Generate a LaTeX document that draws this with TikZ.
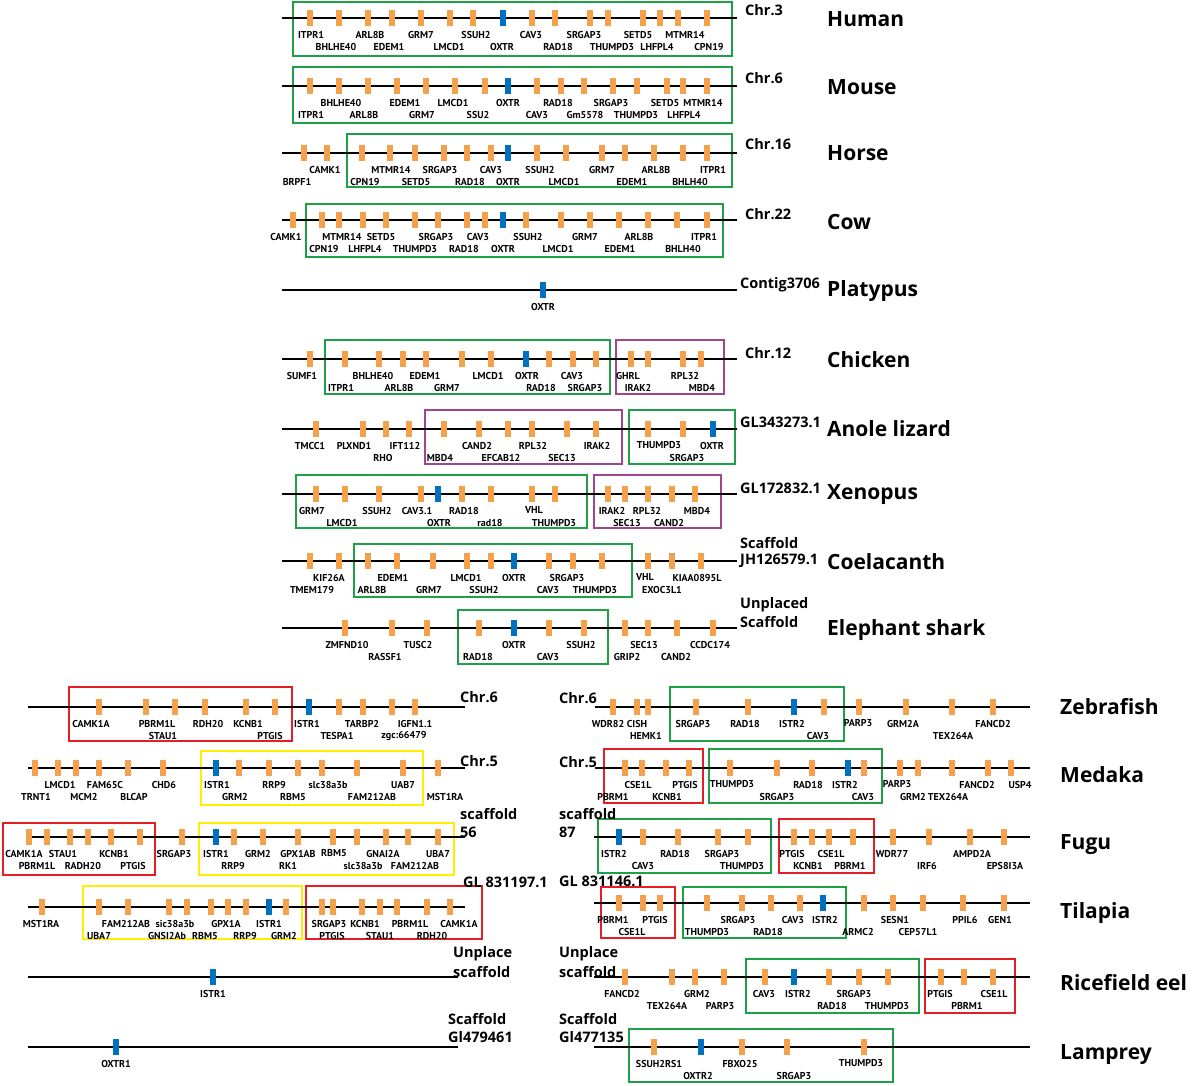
\documentclass[tikz,border=0pt]{standalone}
\usepackage{fontspec}
\newfontfamily\gfont{PT Sans}[BoldFont={PT Sans Bold}]
\newfontfamily\tfont{Open Sans}
\definecolor{geneo}{RGB}{245,160,75}
\definecolor{geneb}{RGB}{0,112,192}
\definecolor{bgreen}{RGB}{30,160,70}
\definecolor{bred}{RGB}{230,30,35}
\definecolor{bpurple}{RGB}{160,70,140}
\definecolor{byellow}{RGB}{255,238,0}
\tikzset{
  chrline/.style={line width=2.2pt,black},
  boxline/.style={line width=1.3pt},
  genebar/.style={rectangle,minimum width=6pt,minimum height=15.5pt,inner sep=0pt,draw=none},
  glabel/.style={font=\gfont\bfseries\fontsize{10}{11}\selectfont,inner sep=0pt},
  chrlab/.style={font=\tfont\bfseries\fontsize{14.5}{16}\selectfont,anchor=west,inner sep=0pt},
  splab/.style={font=\tfont\bfseries\fontsize{21}{24}\selectfont,anchor=west,inner sep=0pt},
}
\newcommand\chrom[4]{%
  \draw[chrline] (#2,#1) -- (#3,#1);
  \foreach \gx/\lx/\gr/\gc/\gn in {#4}{%
    \node[genebar,fill=gene\gc] at (\gx,#1) {};
    \node[glabel] at (\lx,{#1+4+12.5*\gr}) {\gn};
  }}
\newcommand\gbox[5]{\draw[boxline,draw=#1] (#2,#3) rectangle (#4,#5);}
\begin{document}
\begin{tikzpicture}[x=1pt,y=-1pt]
\useasboundingbox[fill=white] (0,0) rectangle (1192,1085);
% ---------------- top section ----------------
\gbox{bgreen}{293}{2}{732}{56}
\chrom{18}{282}{737}{310/311/1/o/ITPR1, 339/336/2/o/BHLHE40, 368/370/1/o/ARL8B, 392/389/2/o/EDEM1, 421/421/1/o/GRM7, 450/449/2/o/LMCD1, 473/476/1/o/SSUH2, 503/502/2/b/OXTR, 532/531/1/o/CAV3, 555/558/2/o/RAD18, 590/584/1/o/SRGAP3, 608/612/2/o/THUMPD3, 643/638/1/o/SETD5, 660/657/2/o/LHFPL4, 678/685/1/o/MTMR14, 707/709/2/o/CPN19}
\gbox{bgreen}{293}{67}{732}{123}
\chrom{86}{282}{737}{310/311/2/o/ITPR1, 339/341/1/o/BHLHE40, 368/364/2/o/ARL8B, 397/405/1/o/EDEM1, 426/422/2/o/GRM7, 455/453/1/o/LMCD1, 485/478/2/o/SSU2, 508/508/1/b/OXTR, 537/537/2/o/CAV3, 561/558/1/o/RAD18, 584/585/2/o/Gm5578, 613/611/1/o/SRGAP3, 637/636/2/o/THUMPD3, 667/665/1/o/SETD5, 683/684/2/o/LHFPL4, 707/703/1/o/MTMR14}
\gbox{bgreen}{347}{134}{732}{187}
\chrom{153}{282}{737}{304/297/2/o/BRPF1, 327/325/1/o/CAMK1, 362/365/2/o/CPN19, 390/391/1/o/MTMR14, 415/416/2/o/SETD5, 444/440/1/o/SRGAP3, 467/470/2/o/RAD18, 491/491/1/o/CAV3, 508/508/2/b/OXTR, 537/540/1/o/SSUH2, 566/564/2/o/LMCD1, 602/602/1/o/GRM7, 625/632/2/o/EDEM1, 654/656/1/o/ARL8B, 683/690/2/o/BHLH40, 707/713/1/o/ITPR1}
\gbox{bgreen}{306}{204}{723}{257}
\chrom{220}{282}{737}{293/286/1/o/CAMK1, 322/324/2/o/CPN19, 339/342/1/o/MTMR14, 363/365/2/o/LHFPL4, 386/381/1/o/SETD5, 415/415/2/o/THUMPD3, 438/436/1/o/SRGAP3, 467/464/2/o/RAD18, 485/478/1/o/CAV3, 503/503/2/b/OXTR, 526/528/1/o/SSUH2, 561/558/2/o/LMCD1, 590/585/1/o/GRM7, 619/620/2/o/EDEM1, 648/639/1/o/ARL8B, 677/683/2/o/BHLH40, 707/704/1/o/ITPR1}
\chrom{290}{282}{737}{543/543/1/b/OXTR}
\gbox{bgreen}{325}{340}{610}{394}
\gbox{bpurple}{616}{340}{724}{394}
\chrom{359}{282}{737}{310/302/1/o/SUMF1, 345/341/2/o/ITPR1, 379/373/1/o/BHLHE40, 403/399/2/o/ARL8B, 426/425/1/o/EDEM1, 462/447/2/o/GRM7, 491/488/1/o/LMCD1, 526/527/1/b/OXTR, 549/541/2/o/RAD18, 573/572/1/o/CAV3, 596/585/2/o/SRGAP3, 631/628/1/o/GHRL, 648/638/2/o/IRAK2, 683/685/1/o/RPL32, 701/702/2/o/MBD4}
\gbox{bpurple}{425}{410}{622}{464}
\gbox{bgreen}{629}{410}{735}{464}
\chrom{429}{282}{737}{316/310/1/o/TMCC1, 363/354/1/o/PLXND1, 386/383/2/o/RHO, 409/405/1/o/IFT112, 444/440/2/o/MBD4, 479/477/1/o/CAND2, 508/501/2/o/EFCAB12, 532/533/1/o/RPL32, 567/562/2/o/SEC13, 596/597/1/o/IRAK2, 648/659/1/o/THUMPD3, 683/687/2/o/SRGAP3, 713/712/1/b/OXTR}
\gbox{bgreen}{296}{475}{587}{528}
\gbox{bpurple}{594}{475}{721}{528}
\chrom{494}{282}{737}{316/312/1/o/GRM7, 345/342/2/o/LMCD1, 379/377/1/o/SSUH2, 421/417/1/o/CAV3.1, 438/439/2/b/OXTR, 462/464/1/o/RAD18, 491/490/2/o/rad18, 532/534/1/o/VHL, 555/554/2/o/THUMPD3, 608/612/1/o/IRAK2, 625/627/2/o/SEC13, 648/647/1/o/RPL32, 672/669/2/o/CAND2, 695/697/1/o/MBD4}
\gbox{bgreen}{354}{544}{632}{597}
\chrom{561}{282}{737}{310/312/2/o/TMEM179, 339/329/1/o/KIF26A, 368/372/2/o/ARL8B, 397/393/1/o/EDEM1, 433/429/2/o/GRM7, 467/466/1/o/LMCD1, 491/484/2/o/SSUH2, 514/514/1/b/OXTR, 549/548/2/o/CAV3, 573/567/1/o/SRGAP3, 602/595/2/o/THUMPD3, 648/645/1/o/VHL, 672/662/2/o/EXOC3L1, 701/697/1/o/KIAA0895L}
\gbox{bgreen}{458}{610}{608}{664}
\chrom{628}{282}{737}{345/347/1/o/ZMFND10, 392/385/2/o/RASSF1, 427/418/1/o/TUSC2, 479/478/2/o/RAD18, 514/514/1/b/OXTR, 549/548/2/o/CAV3, 584/581/1/o/SSUH2, 625/627/2/o/GRIP2, 648/644/1/o/SEC13, 677/676/2/o/CAND2, 713/710/1/o/CCDC174}
% chromosome labels (top)
\node[chrlab] (c1) at (745,10) {Chr.3};
\node[chrlab] (c2) at (745,78) {Chr.6};
\node[chrlab] (c3) at (745,144) {Chr.16};
\node[chrlab] (c4) at (745,214) {Chr.22};
\node[chrlab] (c5) at (740,285) {Contig3706};
\node[chrlab] (c6) at (745,353) {Chr.12};
\node[chrlab] (c7) at (740,422) {GL343273.1};
\node[chrlab] (c8) at (740,488) {GL172832.1};
\node[chrlab] (c9a) at (740,543) {Scaffold};
\node[chrlab] (c9b) at (740,561) {JH126579.1};
\node[chrlab] (c10a) at (740,605) {Unplaced};
\node[chrlab] (c10b) at (740,622) {Scaffold};
% species (top)
\node[splab] (s1) at (827,19) {Human};
\node[splab] (s2) at (827,87) {Mouse};
\node[splab] (s3) at (827,153) {Horse};
\node[splab] (s4) at (827,222) {Cow};
\node[splab] (s5) at (827,291) {Platypus};
\node[splab] (s6) at (827,360) {Chicken};
\node[splab] (s7) at (827,429) {Anole lizard};
\node[splab] (s8) at (827,495) {Xenopus};
\node[splab] (s9) at (827,562) {Coelacanth};
\node[splab] (s10) at (827,630) {Elephant shark};
% ---------------- bottom left ----------------
\gbox{bred}{69}{687}{292}{741}
\chrom{707}{28}{465}{99/91/1/o/CAMK1A, 146/157/1/o/PBRM1L, 175/163/2/o/STAU1, 205/208/1/o/RDH20, 246/248/1/o/KCNB1, 275/270/2/o/PTGIS, 309/307/1/b/ISTR1, 339/337/2/o/TESPA1, 363/362/1/o/TARBP2, 392/404/2/o/zgc:66479, 415/415/1/o/IGFN1.1}
\gbox{byellow}{201}{751}{423}{805}
\chrom{768}{28}{465}{35/36/2/o/TRNT1, 58/60/1/o/LMCD1, 76/84/2/o/MCM2, 99/105/1/o/FAM65C, 128/134/2/o/BLCAP, 163/164/1/o/CHD6, 216/217/1/b/ISTR1, 239/235/2/o/GRM2, 269/274/1/o/RRP9, 298/293/2/o/RBM5, 322/328/1/o/slc38a3b, 357/372/2/o/FAM212AB, 403/403/1/o/UAB7, 438/445/2/o/MST1RA}
\gbox{bred}{3}{823}{155}{875}
\gbox{byellow}{199}{823}{454}{875}
\chrom{837}{28}{465}{29/24/1/o/CAMK1A, 47/37/2/o/PBRM1L, 70/63/1/o/STAU1, 88/83/2/o/RADH20, 111/114/1/o/KCNB1, 140/133/2/o/PTGIS, 182/174/1/o/SRGAP3, 216/216/1/b/ISTR1, 234/233/2/o/RRP9, 263/258/1/o/GRM2, 298/298/1/o/GPX1AB, 333/334/1/o/RBM5, 357/363/2/o/slc38a3b, 386/383/1/o/GNAI2A, 408/415/2/o/FAM212AB, 438/438/1/o/UBA7}
\node[glabel] (rk1) at (288,866) {RK1};
\gbox{byellow}{83}{886}{302}{939}
\gbox{bred}{306}{886}{482}{939}
\chrom{907}{28}{465}{42/41/1/o/MST1RA, 99/99/2/o/UBA7, 128/126/1/o/FAM212AB, 169/167/2/o/GNSI2Ab, 187/175/1/o/sic38a3b, 211/205/2/o/RBM5, 228/226/1/o/GPX1A, 246/245/2/o/RRP9, 269/269/1/b/ISTR1, 286/284/2/o/GRM2, 322/329/1/o/SRGAP3, 333/332/2/o/PTGIS, 362/365/1/o/KCNB1, 380/380/2/o/STAU1, 397/410/1/o/PBRM1L, 427/432/2/o/RDH20, 450/459/1/o/CAMK1A}
\chrom{977}{28}{458}{213/213/1/b/ISTR1}
\chrom{1047}{28}{458}{116/116/1/b/OXTR1}
\node[chrlab] (l1) at (460,697) {Chr.6};
\node[chrlab] (l2) at (460,761) {Chr.5};
\node[chrlab] (l3a) at (460,814) {scaffold};
\node[chrlab] (l3b) at (460,832) {56};
\node[chrlab] (l4) at (463,882) {GL 831197.1};
\node[chrlab] (l5a) at (453,954) {Unplace};
\node[chrlab] (l5b) at (453,972) {scaffold};
\node[chrlab] (l6a) at (448,1019) {Scaffold};
\node[chrlab] (l6b) at (448,1037) {Gl479461};
% ---------------- bottom right ----------------
\gbox{bgreen}{670}{687}{844}{741}
\chrom{707}{595}{1030}{613/608/1/o/WDR82, 637/637/1/o/CISH, 648/646/2/o/HEMK1, 696/693/1/o/SRGAP3, 748/745/1/o/RAD18, 794/792/1/b/ISTR2, 824/818/2/o/CAV3, 859/858/1/o/PARP3, 906/903/1/o/GRM2A, 952/953/2/o/TEX264A, 993/993/1/o/FANCD2}
\gbox{bred}{604}{749}{703}{803}
\gbox{bgreen}{709}{749}{882}{803}
\chrom{768}{595}{1030}{625/613/2/o/PBRM1, 642/638/1/o/CSE1L, 666/667/2/o/KCNB1, 689/685/1/o/PTGIS, 730/732/1/o/THUMPD3, 777/777/2/o/SRGAP3, 812/808/1/o/RAD18, 848/845/1/b/ISTR2, 864/863/2/o/CAV3, 900/897/1/o/PARP3, 918/913/2/o/GRM2, 952/948/2/o/TEX264A, 988/977/1/o/FANCD2, 1011/1020/1/o/USP4}
\gbox{bgreen}{598}{819}{771}{873}
\gbox{bred}{779}{819}{874}{873}
\chrom{837}{594}{1030}{619/614/1/b/ISTR2, 643/643/2/o/CAV3, 678/675/1/o/RAD18, 718/722/1/o/SRGAP3, 748/742/2/o/THUMPD3, 794/792/1/o/PTGIS, 812/808/2/o/KCNB1, 829/831/1/o/CSE1L, 853/850/2/o/PBRM1, 893/892/1/o/WDR77, 929/927/2/o/IRF6, 970/972/1/o/AMPD2A, 1004/1005/2/o/EPS8I3A}
\gbox{bred}{601}{887}{675}{938}
\gbox{bgreen}{683}{887}{846}{938}
\chrom{903}{594}{1030}{619/613/1/o/PBRM1, 643/632/2/o/CSE1L, 660/655/1/o/PTGIS, 707/707/2/o/THUMPD3, 742/738/1/o/SRGAP3, 771/768/2/o/RAD18, 800/793/1/o/CAV3, 823/825/1/b/ISTR2, 864/858/2/o/ARMC2, 893/895/1/o/SESN1, 923/918/2/o/CEP57L1, 963/965/1/o/PPIL6, 1004/1000/1/o/GEN1}
\gbox{bgreen}{746}{959}{919}{1013}
\gbox{bred}{925}{959}{1015}{1013}
\chrom{977}{594}{1030}{625/622/1/o/FANCD2, 672/667/2/o/TEX264A, 695/697/1/o/GRM2, 724/720/2/o/PARP3, 765/764/1/o/CAV3, 794/798/1/b/ISTR2, 829/832/2/o/RAD18, 859/854/1/o/SRGAP3, 888/887/2/o/THUMPD3, 941/940/1/o/PTGIS, 964/967/2/o/PBRM1, 993/994/1/o/CSE1L}
\gbox{bgreen}{629}{1029}{893}{1082}
\chrom{1047}{594}{1030}{654/659/1/o/SSUH2RS1, 701/698/2/b/OXTR2, 742/740/1/o/FBXO25, 787/794/2/o/SRGAP3, 864/861/1/o/THUMPD3}
\node[chrlab] (r1) at (559,698) {Chr.6};
\node[chrlab] (r2) at (559,762) {Chr.5};
\node[chrlab] (r3a) at (559,814) {scaffold};
\node[chrlab] (r3b) at (559,832) {87};
\node[chrlab] (r4) at (559,881) {GL 831146.1};
\node[chrlab] (r5a) at (559,954) {Unplace};
\node[chrlab] (r5b) at (559,972) {scaffold};
\node[chrlab] (r6a) at (559,1019) {Scaffold};
\node[chrlab] (r6b) at (559,1037) {Gl477135};
% species (bottom)
\node[splab] (b1) at (1060,707) {Zebrafish};
\node[splab] (b2) at (1060,775) {Medaka};
\node[splab] (b3) at (1060,845) {Fugu};
\node[splab] (b4) at (1060,913) {Tilapia};
\node[splab] (b5) at (1060,983) {Ricefield eel};
\node[splab] (b6) at (1060,1055) {Lamprey};
\end{tikzpicture}
\end{document}
